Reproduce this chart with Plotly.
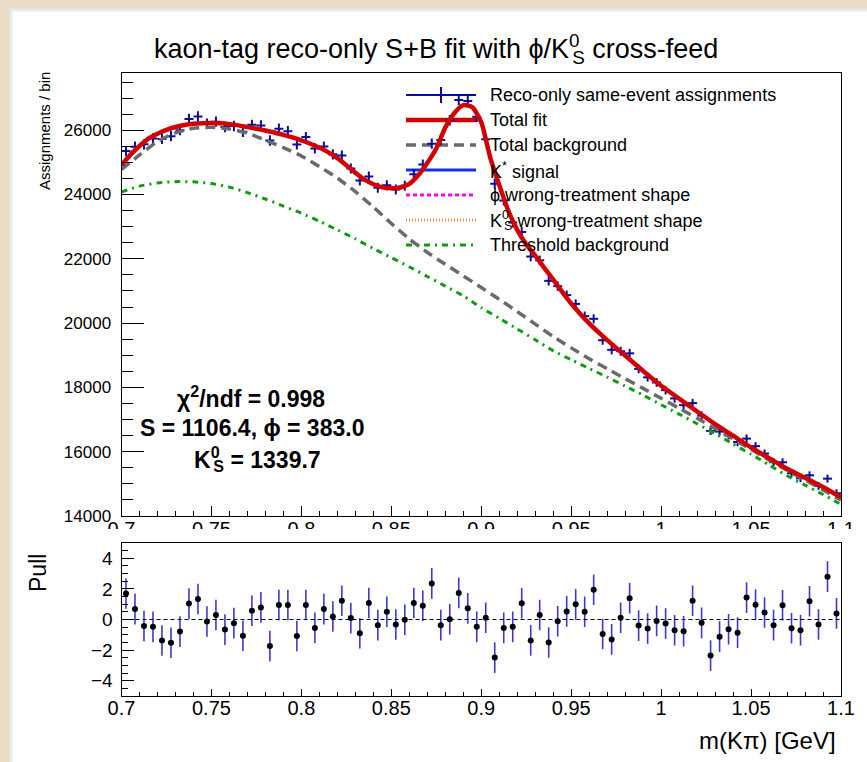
import numpy as np
import plotly.graph_objects as go

W, H = 867, 762

# ---------------- data ----------------
# 80 bins of 5 MeV between 0.70 and 1.10 GeV
bin_edges = np.linspace(0.70, 1.10, 81)
bin_centers = 0.5 * (bin_edges[:-1] + bin_edges[1:])
bin_half_width = 0.0025

counts = [
    25350, 25488, 25563, 25743, 25729, 25815, 26002, 26348, 26427, 26204,
    26267, 26098, 26131, 25953, 26167, 26147, 25680, 26048, 25968, 25557,
    25787, 25432, 25493, 25252, 25214, 24809, 24434, 24563, 24212, 24290,
    24154, 24272, 24633, 24931, 25580, 25696, 26308, 26939, 26910, 26422,
    25718, 24334, 23815, 23127, 22835, 22071, 21953, 21315, 21149, 20871,
    20597, 20217, 20134, 19467, 19169, 19125, 19060, 18576, 18315, 18153,
    17915, 17657, 17448, 17512, 17121, 16648, 16626, 16507, 16300, 16407,
    16173, 15943, 15674, 15671, 15329, 15173, 15266, 14935, 15162, 14708,
]

pulls = [
    1.70, 0.68, -0.42, -0.48, -1.37, -1.52, -0.79, 1.04, 1.34, -0.13,
    0.29, -0.66, -0.24, -1.06, 0.57, 0.79, -1.74, 0.95, 0.95, -1.08,
    0.95, -0.55, 0.68, 0.20, 1.23, 0.09, -0.90, 1.08, -0.37, 0.51,
    -0.33, -0.02, 1.08, 0.90, 2.36, -0.37, 0.02, 1.74, 0.73, -0.48,
    0.11, -2.49, -0.55, -0.48, 1.06, -1.37, 0.29, -1.50, -0.11, 0.53,
    0.99, 0.51, 1.94, -0.95, -1.30, 0.11, 1.39, -0.40, -0.59, -0.09,
    -0.26, -0.70, -0.77, 1.23, -0.22, -2.36, -1.12, -0.64, -0.86, 1.43,
    0.97, 0.46, -0.37, 0.93, -0.57, -0.70, 1.19, -0.33, 2.80, 0.40,
]

# total fit, sampled finely across the K* peak
fit_x = np.concatenate([np.linspace(0.70, 0.94, 49), np.linspace(0.95, 1.10, 16)])
fit_total = [
    24910, 25240, 25510, 25740, 25890, 26010, 26100, 26160, 26200, 26220,
    26225, 26215, 26190, 26150, 26100, 26045, 25990, 25930, 25855, 25775,
    25685, 25580, 25460, 25310, 25130, 24910, 24680, 24470, 24320, 24225,
    24195, 24220, 24330, 24600, 24980, 25430, 26080, 26530, 26780, 26720,
    26250, 25150, 24300, 23500, 22900, 22450, 22100, 21720, 21350,
    20610, 19990, 19470, 18990, 18510, 18050, 17650, 17250, 16860, 16500,
    16130, 15800, 15470, 15190, 14900, 14580,
]

# fit components on a 10 MeV grid
comp_x = np.linspace(0.70, 1.10, 41)
total_background = [
    24780, 25230, 25650, 25920, 26060, 26090, 26040, 25910, 25690, 25460,
    25200, 24870, 24510, 24090, 23610, 23100, 22620, 22200, 21830, 21470,
    21110, 20740, 20360, 19970, 19580, 19230, 18890, 18580, 18270, 17970,
    17660, 17350, 17040, 16720, 16400, 16070, 15740, 15420, 15120, 14810,
    14500,
]
threshold_background = [
    24080, 24260, 24360, 24400, 24395, 24340, 24230, 24060, 23860, 23640,
    23420, 23170, 22900, 22620, 22320, 22040, 21750, 21450, 21150, 20850,
    20480, 20150, 19820, 19480, 19140, 18860, 18590, 18320, 18040, 17760,
    17460, 17170, 16870, 16560, 16240, 15920, 15590, 15250, 14960, 14670,
    14360,
]
kstar_signal = [
    130, 150, 180, 200, 230, 260, 300, 350, 420, 500,
    590, 700, 850, 1000, 1200, 1450, 1900, 2800, 4200, 5300,
    5100, 3600, 2600, 2100, 1780, 1400, 1100, 890, 720, 560,
    430, 340, 270, 220, 180, 150, 130, 110, 95, 85,
    75,
]
phi_wrong = [
    350, 480, 640, 760, 830, 870, 900, 920, 910, 880,
    840, 790, 740, 690, 640, 580, 500, 420, 370, 330,
    320, 300, 270, 250, 220, 190, 160, 140, 120, 110,
    100, 90, 85, 80, 80, 75, 75, 85, 80, 70,
    70,
]
k0s_wrong = [
    350, 490, 650, 760, 835, 880, 910, 930, 920, 940,
    940, 910, 870, 770, 630, 440, 310, 340, 360, 340,
    330, 290, 260, 230, 210, 180, 140, 120, 110, 100,
    100, 90, 85, 80, 80, 75, 75, 85, 80, 70,
    70,
]

x_ticks = [0.70, 0.75, 0.80, 0.85, 0.90, 0.95, 1.00, 1.05, 1.10]
x_ticktext = ["0.7", "0.75", "0.8", "0.85", "0.9", "0.95", "1", "1.05", "1.1"]
y_ticks = [14000, 16000, 18000, 20000, 22000, 24000, 26000]
y_ticktext = ["14000", "16000", "18000", "20000", "22000", "24000", "26000"]
pull_ticks = [-4, -2, 0, 2, 4]
pull_ticktext = ["\u22124", "\u22122", "0", "2", "4"]

# ---------------- styling ----------------
FONT = "Liberation Sans, Arial, Helvetica, sans-serif"
C_DATA = "#0c0c9c"
C_FIT = "#d20000"
C_BKG = "#6a6a6a"
C_SIG = "#1030e8"
C_PHI = "#ff00ff"
C_K0S = "#ff8a4a"
C_THR = "#119a11"
C_PULL_ERR = "#3a3ad0"

# K0_S with the 0 stacked over the S
K0S = "K<sup><span style='letter-spacing:-0.39em'>0</span></sup><sub>S</sub>"


def fx(px):
    return px / W


def fy(py):
    return 1 - py / H


fig = go.Figure()

# data points with bin-width and Poisson error bars
fig.add_trace(go.Scatter(
    x=bin_centers, y=counts, mode="markers",
    marker=dict(size=1, color=C_DATA),
    error_x=dict(type="constant", value=bin_half_width, width=0, thickness=2, color=C_DATA),
    error_y=dict(type="data", array=np.sqrt(counts), width=0, thickness=2, color=C_DATA),
    xaxis="x", yaxis="y", showlegend=False,
))

line_shape = dict(shape="spline", smoothing=0.6)
fig.add_trace(go.Scatter(x=comp_x, y=kstar_signal, mode="lines",
                         line=dict(color=C_SIG, width=3, **line_shape),
                         xaxis="x", yaxis="y", showlegend=False))
fig.add_trace(go.Scatter(x=comp_x, y=phi_wrong, mode="lines",
                         line=dict(color=C_PHI, width=3, dash="4px,3px", **line_shape),
                         xaxis="x", yaxis="y", showlegend=False))
fig.add_trace(go.Scatter(x=comp_x, y=k0s_wrong, mode="lines",
                         line=dict(color=C_K0S, width=3, dash="1px,2px", **line_shape),
                         xaxis="x", yaxis="y", showlegend=False))
fig.add_trace(go.Scatter(x=comp_x, y=threshold_background, mode="lines",
                         line=dict(color=C_THR, width=3, dash="6px,5px,2px,5px", **line_shape),
                         xaxis="x", yaxis="y", showlegend=False))
fig.add_trace(go.Scatter(x=comp_x, y=total_background, mode="lines",
                         line=dict(color=C_BKG, width=3.5, dash="10px,6px", **line_shape),
                         xaxis="x", yaxis="y", showlegend=False))
fig.add_trace(go.Scatter(x=fit_x, y=fit_total, mode="lines",
                         line=dict(color=C_FIT, width=4.5, **line_shape),
                         xaxis="x", yaxis="y", showlegend=False))

# pull panel
fig.add_trace(go.Scatter(
    x=bin_centers, y=pulls, mode="markers",
    marker=dict(size=6, color="black"),
    error_y=dict(type="constant", value=1.0, width=0, thickness=1.6, color=C_PULL_ERR),
    xaxis="x2", yaxis="y2", showlegend=False,
))

axis_common = dict(
    showgrid=False, zeroline=False, showline=True, mirror=True, automargin=False,
    linecolor="black", linewidth=1, ticks="inside", tickcolor="black",
    tickwidth=1,
)

x_dom = [fx(121.5), fx(841)]
minor_x = list(np.round(np.arange(0.70, 1.1001, 0.01), 3))
fig.update_layout(
    template="none",
    width=W, height=H,
    margin=dict(l=0, r=0, t=0, b=0, pad=0, autoexpand=False),
    paper_bgcolor="#ebdac4",
    plot_bgcolor="white",
    font=dict(family=FONT, color="black"),
    showlegend=False,
    xaxis=dict(
        domain=x_dom, range=[0.70, 1.10], anchor="y",
        tickvals=x_ticks, ticktext=x_ticktext, ticklen=10, ticklabelstandoff=-5,
        tickfont=dict(size=20, family=FONT),
        minor=dict(tickvals=minor_x, ticklen=5, ticks="inside",
                   tickcolor="black", tickwidth=1),
        **axis_common,
    ),
    yaxis=dict(
        domain=[fy(516), fy(73)], range=[14000, 27780], anchor="x",
        tickvals=y_ticks, ticktext=y_ticktext, ticklen=22, ticklabelstandoff=6,
        tickfont=dict(size=17, family=FONT),
        minor=dict(tickvals=list(range(14000, 27780, 500)),
                   ticklen=11, ticks="inside", tickcolor="black", tickwidth=1),
        **axis_common,
    ),
    xaxis2=dict(
        domain=x_dom, range=[0.70, 1.10], anchor="y2",
        tickvals=x_ticks, ticktext=x_ticktext, ticklen=7, ticklabelstandoff=-6,
        tickfont=dict(size=20, family=FONT),
        minor=dict(tickvals=minor_x, ticklen=4, ticks="inside",
                   tickcolor="black", tickwidth=1),
        **axis_common,
    ),
    yaxis2=dict(
        domain=[fy(696), fy(543)], range=[-5, 5], anchor="x2",
        tickvals=pull_ticks, ticktext=pull_ticktext, ticklen=12, ticklabelstandoff=4,
        tickfont=dict(size=19, family=FONT),
        minor=dict(tickvals=[v / 2 for v in range(-10, 11)],
                   ticklen=6, ticks="inside", tickcolor="black", tickwidth=1),
        **axis_common,
    ),
)

shapes = []
# white canvas on the textured backdrop
shapes.append(dict(type="rect", xref="paper", yref="paper", layer="below",
                   x0=fx(11), x1=fx(869), y0=fy(764), y1=fy(10),
                   fillcolor="white", line=dict(color="#e2ecec", width=3)))
# lower pad hides the bottom half of the upper x labels
shapes.append(dict(type="rect", xref="paper", yref="paper", layer="above",
                   x0=fx(60), x1=fx(866), y0=fy(541), y1=fy(529),
                   fillcolor="white", line=dict(width=0)))
# zero line of the pull panel
shapes.append(dict(type="line", xref="x2 domain", yref="y2", x0=0, x1=1, y0=0, y1=0,
                   line=dict(color="black", width=1, dash="4px,3px")))

# legend symbols
leg_x0, leg_x1 = fx(406), fx(476)
leg_rows = [95, 120, 145, 170, 195, 220, 245]
leg_styles = [
    dict(color=C_DATA, width=2),
    dict(color=C_FIT, width=4.5),
    dict(color=C_BKG, width=3.5, dash="10px,6px"),
    dict(color=C_SIG, width=3),
    dict(color=C_PHI, width=3, dash="4px,3px"),
    dict(color=C_K0S, width=3, dash="1px,2px"),
    dict(color=C_THR, width=3, dash="6px,5px,2px,5px"),
]
for row, st in zip(leg_rows, leg_styles):
    shapes.append(dict(type="line", xref="paper", yref="paper", layer="below",
                       x0=leg_x0, x1=leg_x1, y0=fy(row), y1=fy(row), line=st))
shapes.append(dict(type="line", xref="paper", yref="paper", layer="below",
                   x0=fx(441), x1=fx(441), y0=fy(87), y1=fy(103),
                   line=dict(color=C_DATA, width=2)))
fig.update_layout(shapes=shapes)

annotations = []
leg_texts = [
    "Reco-only same-event assignments",
    "Total fit",
    "Total background",
    "K<sup>*</sup> signal",
    "\u03d5 wrong-treatment shape",
    K0S + " wrong-treatment shape",
    "Threshold background",
]
for row, txt in zip(leg_rows, leg_texts):
    annotations.append(dict(x=fx(488), y=fy(row), xref="paper", yref="paper",
                            xanchor="left", yanchor="middle", text=txt, showarrow=False,
                            font=dict(size=18, family=FONT)))

# title
annotations.append(dict(x=fx(436), y=fy(49), xref="paper", yref="paper",
                        xanchor="center", yanchor="middle", showarrow=False,
                        text="kaon-tag reco-only S+B fit with \u03d5/" + K0S + " cross-feed",
                        font=dict(size=27, family=FONT)))
# fit summary
for yy, xc, txt in [
    (397, 251, "<b>\u03c7<sup>2</sup>/ndf = 0.998</b>"),
    (428, 252, "<b>S = 1106.4, \u03d5 = 383.0</b>"),
    (459, 257, "<b>" + K0S + " = 1339.7</b>"),
]:
    annotations.append(dict(x=fx(xc), y=fy(yy), xref="paper", yref="paper",
                            xanchor="center", yanchor="middle", text=txt, showarrow=False,
                            font=dict(size=23, family=FONT)))
# axis titles
annotations.append(dict(x=fx(44), y=fy(70), xref="paper", yref="paper",
                        xanchor="center", yanchor="top", textangle=-90,
                        text="Assignments / bin", showarrow=False,
                        font=dict(size=15, family=FONT)))
annotations.append(dict(x=fx(38), y=fy(552), xref="paper", yref="paper",
                        xanchor="center", yanchor="top", textangle=-90,
                        text="Pull", showarrow=False,
                        font=dict(size=23, family=FONT)))
annotations.append(dict(x=fx(838), y=fy(740), xref="paper", yref="paper",
                        xanchor="right", yanchor="middle",
                        text="m(K\u03c0) [GeV]", showarrow=False,
                        font=dict(size=24, family=FONT)))
fig.update_layout(annotations=annotations)

fig.write_html("out.html")
